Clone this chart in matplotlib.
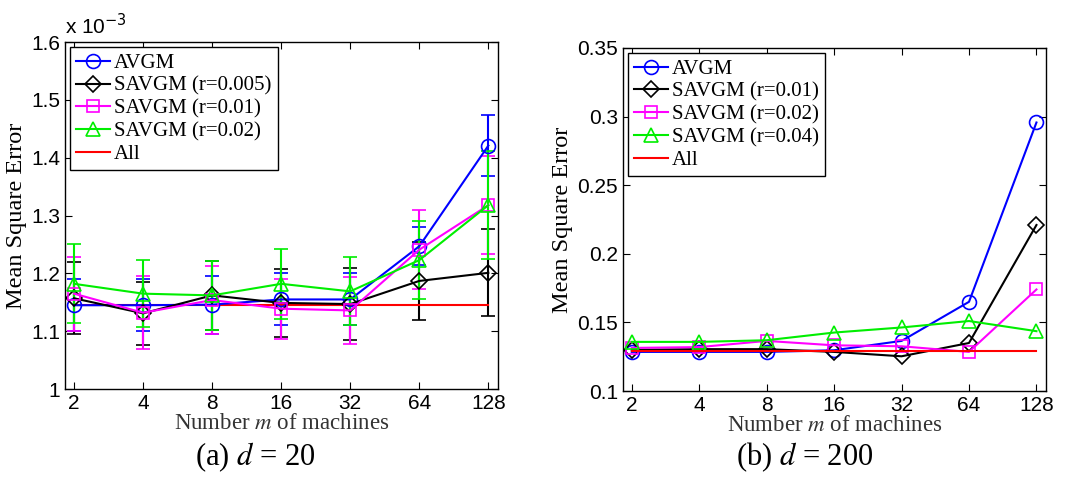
import matplotlib
matplotlib.use("Agg")
import matplotlib.pyplot as plt
import numpy as np

plt.rcParams['mathtext.fontset'] = 'stix'
plt.rcParams['font.family'] = ['Liberation Serif', 'DejaVu Serif']

machines = [2, 4, 8, 16, 32, 64, 128]

# panel (a): d = 20, values in units of 1e-3
a_avgm = [1.145, 1.145, 1.146, 1.155, 1.155, 1.247, 1.421]
a_avgm_err = [0.045, 0.045, 0.050, 0.045, 0.045, 0.033, 0.053]
a_s005 = [1.157, 1.131, 1.162, 1.149, 1.147, 1.187, 1.201]
a_s005_err = [0.062, 0.054, 0.059, 0.059, 0.062, 0.068, 0.075]
a_s01 = [1.165, 1.132, 1.154, 1.139, 1.136, 1.241, 1.318]
a_s01_err = [0.064, 0.063, 0.058, 0.052, 0.058, 0.068, 0.085]
a_s02 = [1.182, 1.165, 1.162, 1.182, 1.169, 1.223, 1.318]
a_s02_err = [0.068, 0.058, 0.059, 0.060, 0.059, 0.068, 0.093]
a_all = 1.146
a_labels = ['AVGM', 'SAVGM (r=0.005)', 'SAVGM (r=0.01)', 'SAVGM (r=0.02)', 'All']

# panel (b): d = 200
b_avgm = [0.1285, 0.1285, 0.1285, 0.1297, 0.1365, 0.165, 0.2957]
b_s01 = [0.130, 0.1305, 0.1305, 0.1285, 0.1253, 0.135, 0.221]
b_s02 = [0.1314, 0.132, 0.1365, 0.1333, 0.1326, 0.1285, 0.174]
b_s04 = [0.1358, 0.1358, 0.137, 0.1426, 0.1463, 0.151, 0.1436]
b_all = 0.129
b_labels = ['AVGM', 'SAVGM (r=0.01)', 'SAVGM (r=0.02)', 'SAVGM (r=0.04)', 'All']

colors = ['#0000ff', 'black', '#ff00ff', '#00ee00', '#ff0000']
markers = ['o', 'D', 's', '^']
msizes = [10, 8, 8, 10]


def style_axes(ax):
    ax.set_xscale('log', base=2)
    ax.set_xticks(machines)
    ax.set_xticklabels([str(m) for m in machines], family='Liberation Sans', fontsize=15)
    ax.minorticks_off()
    ax.set_xlim(2 / 2 ** 0.13, 128 * 2 ** 0.14)
    ax.tick_params(direction='in', top=True, right=True, length=5, width=0.8, labelsize=15)
    for lab in ax.get_yticklabels():
        lab.set_family('Liberation Sans')
    ax.set_xlabel('Number $m$ of machines', fontsize=16.5, color='#333333', labelpad=0)
    ax.set_ylabel('Mean Square Error', fontsize=17.5, labelpad=3)
    for s in ax.spines.values():
        s.set_linewidth(1.0)


def add_legend(ax, handles, labels):
    leg = ax.legend(handles, labels, loc='upper left', fontsize=15, handlelength=1.6,
                    handletextpad=0.2, labelspacing=0.15, borderpad=0.3,
                    borderaxespad=0.25, frameon=True, fancybox=False, framealpha=1)
    leg.get_frame().set_edgecolor('black')
    leg.get_frame().set_linewidth(1.0)


fig = plt.figure(figsize=(10.68, 4.78), dpi=100)
ax1 = fig.add_axes([0.0609, 0.186, 0.4054, 0.726])
ax2 = fig.add_axes([0.5833, 0.182, 0.396, 0.7176])

# (a)
handles = []
series = [(a_avgm, a_avgm_err), (a_s005, a_s005_err), (a_s01, a_s01_err), (a_s02, a_s02_err)]
for i, (y, e) in enumerate(series):
    c = ax1.errorbar(machines, y, yerr=e, color=colors[i], marker=markers[i], ms=msizes[i],
                     mfc='none', mew=1.2, lw=1.5, elinewidth=1.5, capsize=5, capthick=1.5)
    handles.append(c.lines[0])
h, = ax1.plot(machines, [a_all] * len(machines), color=colors[4], lw=1.5)
handles.append(h)
ax1.set_ylim(1.0, 1.6)
ax1.set_yticks([1.0, 1.1, 1.2, 1.3, 1.4, 1.5, 1.6])
ax1.set_yticklabels(['1', '1.1', '1.2', '1.3', '1.4', '1.5', '1.6'])
style_axes(ax1)
add_legend(ax1, handles, a_labels)
ax1.text(0.0, 1.012, r'x 10$^{-3}$', transform=ax1.transAxes, family='Liberation Sans',
         fontsize=15, ha='left', va='bottom', math_fontfamily='dejavusans')

# (b)
handles = []
for i, y in enumerate([b_avgm, b_s01, b_s02, b_s04]):
    h, = ax2.plot(machines, y, color=colors[i], marker=markers[i], ms=msizes[i],
                  mfc='none', mew=1.2, lw=1.5)
    handles.append(h)
h, = ax2.plot(machines, [b_all] * len(machines), color=colors[4], lw=1.5)
handles.append(h)
ax2.set_ylim(0.1, 0.35)
ax2.set_yticks([0.1, 0.15, 0.2, 0.25, 0.3, 0.35])
ax2.set_yticklabels(['0.1', '0.15', '0.2', '0.25', '0.3', '0.35'])
style_axes(ax2)
add_legend(ax2, handles, b_labels)

fig.text(0.239, 0.008, '(a) $d$ = 20', fontsize=22, ha='center', va='bottom')
fig.text(0.753, 0.008, '(b) $d$ = 200', fontsize=22, ha='center', va='bottom')

fig.savefig('out.png', dpi=100)
